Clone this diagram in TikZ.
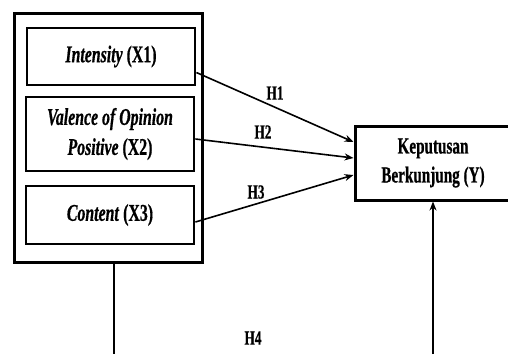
\documentclass[tikz,border=0pt]{standalone}
\usepackage{fontspec}
\setmainfont{Liberation Serif}[FakeStretch=0.66, BoldFeatures={FakeBold=0.6}, BoldItalicFeatures={FakeBold=0.6}]
\usetikzlibrary{arrows.meta,calc}
\tikzset{
  boxa/.style={draw, line width=3pt, inner sep=0pt},
  inbox/.style={draw, line width=2.8pt, inner sep=0pt, align=center,
    font=\fontsize{24}{30}\selectfont\bfseries, minimum width=168pt},
  hlab/.style={font=\fontsize{20}{20}\selectfont\bfseries, inner sep=0pt},
  conn/.style={line width=1.6pt, -{Stealth[length=9pt,width=7pt]}},
  plain/.style={line width=2.2pt}
}
\begin{document}
\begin{tikzpicture}[x=1pt,y=-1pt]
\clip (0,0) rectangle (508,354);
\node[boxa, minimum width=188pt, minimum height=249pt] (outer) at (108,137.5) {};
\node[inbox, minimum height=57pt] (x1) at (111,56.5) {\textit{Intensity} (X1)};
\node[inbox, minimum height=74pt] (x2) at (110,134) {\textit{Valence of Opinion}\\\textit{Positive} (X2)};
\node[inbox, minimum height=58pt] (x3) at (110,215) {\textit{Content} (X3)};
\node[draw, line width=3pt, inner sep=0pt, align=center, minimum width=156pt, minimum height=74pt,
  font=\fontsize{23}{29}\selectfont\bfseries] (y) at (433,163) {Keputusan\\Berkunjung (Y)};
\coordinate (s1) at ($(x1.east)+(0,16)$);
\coordinate (s2) at ($(x2.east)+(0,5)$);
\coordinate (s3) at ($(x3.east)+(0,7)$);
\coordinate (e1) at ($(y.west)+(0,-21)$);
\coordinate (e2) at ($(y.west)+(0,-5)$);
\coordinate (e3) at ($(y.west)+(0,12)$);
\draw[conn] (s1) -- (e1);
\draw[conn] (s2) -- (e2);
\draw[conn] (s3) -- (e3);
\coordinate (bl) at (114,354);
\coordinate (br) at (433,354);
\draw[plain] (outer.south -| bl) -- (bl);
\draw[line width=2.2pt, -{Stealth[length=9pt,width=7pt]}] (br) -- (y.south);
\node[hlab] (h1) at (275,93) {H1};
\node[hlab] (h2) at (263,132) {H2};
\node[hlab] (h3) at (256,192) {H3};
\node[hlab] (h4) at (253,338) {H4};
\end{tikzpicture}
\end{document}
